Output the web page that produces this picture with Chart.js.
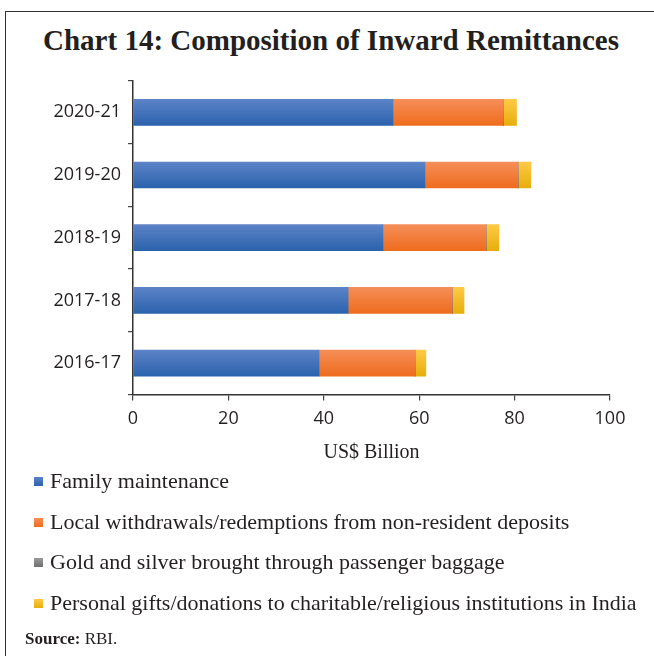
<!DOCTYPE html>
<html>
<head>
<meta charset="utf-8">
<script src="https://cdn.jsdelivr.net/npm/chart.js@4.4.0/dist/chart.umd.min.js"></script>
<style>
  html, body { margin: 0; padding: 0; background: #fff; }
  body { width: 654px; height: 656px; position: relative; overflow: hidden;
         font-family: "Liberation Serif", serif; color: #231f20; }
  #frame { position: absolute; left: 5px; top: 11px; width: 660px; height: 700px;
           border-top: 1.5px solid #333; border-left: 1.5px solid #333; }
  #title { position: absolute; left: 0; top: 24px; width: 662px; text-align: center;
           font-weight: bold; font-size: 29px; }
  #chartBox { position: absolute; left: 0; top: 60px; width: 654px; height: 411px; }
  #legend { position: absolute; left: 34px; top: 468px; }
  .item { height: 40.6px; font-size: 22px; line-height: 26px; white-space: nowrap; }
  .item span.box { display: inline-block; width: 9px; height: 9px; margin-right: 7px; vertical-align: 2px; }
  #source { position: absolute; left: 25px; top: 629px; font-size: 17px; }
</style>
</head>
<body>
<div id="frame"></div>
<div id="title">Chart 14: Composition of Inward Remittances</div>
<div id="chartBox"><canvas id="remitChart"></canvas></div>
<div id="legend"></div>
<div id="source"><b>Source:</b> RBI.</div>
<script>
// years, top to bottom
var years = ['2020-21', '2019-20', '2018-19', '2017-18', '2016-17'];

// US$ billion
var familyMaintenance = [54.5, 61.2, 52.4, 45.1, 39.0];
var localWithdrawals = [23.1, 19.5, 21.6, 21.8, 20.1];
var goldSilver = [0.1, 0.1, 0.1, 0.1, 0.1];
var personalGifts = [2.7, 2.6, 2.6, 2.4, 2.2];

var xTicks = [0, 20, 40, 60, 80, 100];

var BAR_H = 26;

// vertical shading inside each bar
function barGradient(top, bottom) {
  return function(context) {
    var chart = context.chart;
    var yScale = chart.scales.y;
    if (!yScale || !chart.chartArea) return bottom;
    var yc = yScale.getPixelForValue(context.dataIndex);
    var g = chart.ctx.createLinearGradient(0, yc - BAR_H / 2, 0, yc + BAR_H / 2);
    g.addColorStop(0, top);
    g.addColorStop(1, bottom);
    return g;
  };
}

var series = [
  { label: 'Family maintenance', data: familyMaintenance, top: '#5c83c7', bottom: '#2b62ad' },
  { label: 'Local withdrawals/redemptions from non-resident deposits', data: localWithdrawals, top: '#f68e58', bottom: '#ee6c1d' },
  { label: 'Gold and silver brought through passenger baggage', data: goldSilver, top: '#9a9a9a', bottom: '#6f6f6f' },
  { label: 'Personal gifts/donations to charitable/religious institutions in India', data: personalGifts, top: '#ffc945', bottom: '#e6ae0c' }
];

var datasets = series.map(function(s) {
  return {
    label: s.label,
    data: s.data,
    backgroundColor: barGradient(s.top, s.bottom),
    borderWidth: 0,
    barThickness: BAR_H
  };
});

var tickFont = { family: '"Open Sans", sans-serif', size: 18 };
var titleFont = { family: '"Liberation Serif", serif', size: 20 };

var chart = new Chart(document.getElementById('remitChart'), {
  type: 'bar',
  data: { labels: years, datasets: datasets },
  options: {
    indexAxis: 'y',
    responsive: true,
    maintainAspectRatio: false,
    animation: false,
    layout: { padding: { top: 21, right: 44, bottom: 2, left: 0 } },
    plugins: {
      legend: { display: false },
      tooltip: { enabled: false }
    },
    scales: {
      x: {
        stacked: true,
        min: 0,
        max: 100,
        afterBuildTicks: function(scale) {
          scale.ticks = xTicks.map(function(v) { return { value: v }; });
        },
        grid: { drawOnChartArea: false, drawTicks: true, tickLength: 6, color: '#444', lineWidth: 1.2 },
        border: { color: '#333', width: 1.5 },
        ticks: { font: tickFont, color: '#231f20', padding: 8, maxRotation: 0 },
        title: { display: true, text: 'US$ Billion', font: titleFont, color: '#231f20', padding: { top: 3, bottom: 4 } }
      },
      y: {
        stacked: true,
        afterFit: function(scale) { scale.width = 133; },
        grid: { drawOnChartArea: false, drawTicks: true, tickLength: 5, color: '#444', lineWidth: 1.2, offset: true },
        border: { color: '#333', width: 1.5 },
        ticks: { font: tickFont, color: '#231f20', padding: 7 }
      }
    }
  }
});

// legend, one entry per line
var legend = document.getElementById('legend');
series.forEach(function(s) {
  var row = document.createElement('div');
  row.className = 'item';
  var box = document.createElement('span');
  box.className = 'box';
  box.style.background = 'linear-gradient(' + s.top + ',' + s.bottom + ')';
  row.appendChild(box);
  row.appendChild(document.createTextNode(s.label));
  legend.appendChild(row);
});
</script>
</body>
</html>
